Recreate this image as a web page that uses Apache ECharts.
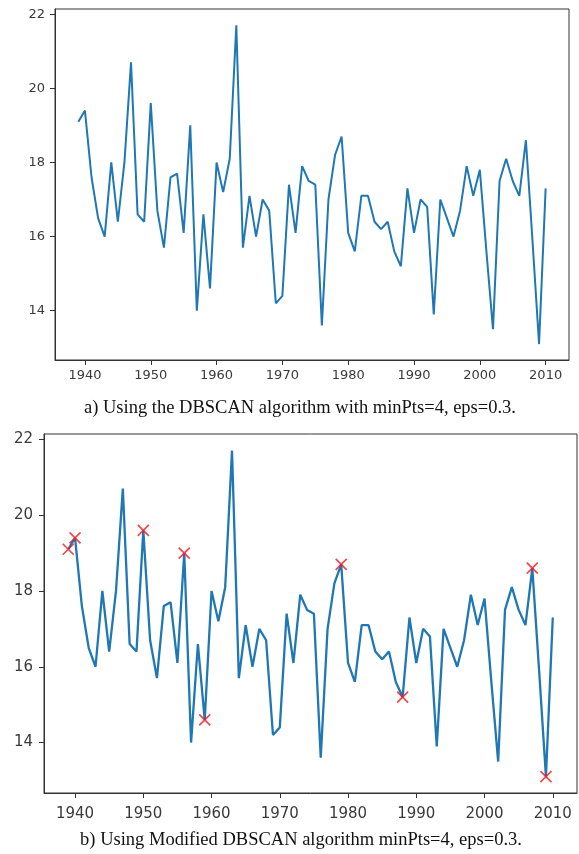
<!DOCTYPE html>
<html>
<head>
<meta charset="utf-8">
<script src="https://cdn.jsdelivr.net/npm/echarts@6/dist/echarts.min.js"></script>
<style>
html, body { margin: 0; padding: 0; background: #fff; }
#main { width: 579px; height: 854px; }
</style>
</head>
<body>
<div id="main"></div>
<script>
// yearly values
var years = [1939, 1940, 1941, 1942, 1943, 1944, 1945, 1946, 1947, 1948, 1949,
    1950, 1951, 1952, 1953, 1954, 1955, 1956, 1957, 1958, 1959,
    1960, 1961, 1962, 1963, 1964, 1965, 1966, 1967, 1968, 1969,
    1970, 1971, 1972, 1973, 1974, 1975, 1976, 1977, 1978, 1979,
    1980, 1981, 1982, 1983, 1984, 1985, 1986, 1987, 1988, 1989,
    1990, 1991, 1992, 1993, 1994, 1995, 1996, 1997, 1998, 1999,
    2000, 2001, 2002, 2003, 2004, 2005, 2006, 2007, 2008, 2009, 2010];
var values = [19.1, 19.4, 17.6, 16.5, 16.0, 18.0, 16.4, 18.0, 20.7, 16.6, 16.4,
    19.6, 16.7, 15.7, 17.6, 17.7, 16.1, 19.0, 14.0, 16.6, 14.6,
    18.0, 17.2, 18.1, 21.7, 15.7, 17.1, 16.0, 17.0, 16.7, 14.2,
    14.4, 17.4, 16.1, 17.9, 17.5, 17.4, 13.6, 17.0, 18.2, 18.7,
    16.1, 15.6, 17.1, 17.1, 16.4, 16.2, 16.4, 15.6, 15.2, 17.3,
    16.1, 17.0, 16.8, 13.9, 17.0, 16.5, 16.0, 16.7, 17.9, 17.1,
    17.8, 15.6, 13.5, 17.5, 18.1, 17.5, 17.1, 18.6, 15.9, 13.1, 17.3];
// points flagged by the modified algorithm
var outlierYears = [1939, 1940, 1950, 1956, 1959, 1979, 1988, 2007, 2009];
var yTicks = [14, 16, 18, 20, 22];
var xTicks = [1940, 1950, 1960, 1970, 1980, 1990, 2000, 2010];
var captionA = "a) Using the DBSCAN algorithm with minPts=4, eps=0.3.";
var captionB = "b) Using Modified DBSCAN algorithm minPts=4, eps=0.3.";

var lineData = years.map(function(y, i) { return [y, values[i]]; });
var outlierData = outlierYears.map(function(y) {
    return [y, values[years.indexOf(y)]];
});

var axisCol = "#333";

function plain(v) {
    return String(v);
}

function xAxisFor(gridIndex, fontSize, margin) {
    return {
        type: "value",
        gridIndex: gridIndex,
        min: 1935.45,
        max: 2013.55,
        splitLine: { show: false },
        axisLine: { show: true, onZero: false, lineStyle: { color: axisCol, width: 1 } },
        axisTick: { show: true, length: 5, customValues: xTicks, lineStyle: { color: axisCol } },
        axisLabel: {
            customValues: xTicks, margin: margin, color: "#3a3a3a", formatter: plain,
            fontFamily: "DejaVu Sans", fontSize: fontSize
        }
    };
}

function yAxisFor(gridIndex, fontSize, margin) {
    return {
        type: "value",
        gridIndex: gridIndex,
        min: 12.67,
        max: 22.14,
        splitLine: { show: false },
        axisLine: { show: true, lineStyle: { color: axisCol, width: 1 } },
        axisTick: { show: true, length: 5, customValues: yTicks, lineStyle: { color: axisCol } },
        axisLabel: {
            customValues: yTicks, margin: margin, color: "#3a3a3a", formatter: plain,
            fontFamily: "DejaVu Sans", fontSize: fontSize
        }
    };
}

var chart = echarts.init(document.getElementById("main"), null, { renderer: "canvas" });

chart.setOption({
    animation: false,
    backgroundColor: "#fff",
    grid: [
        { left: 55, top: 9, width: 514, height: 351, show: true, borderColor: axisCol, borderWidth: 1 },
        { left: 44, top: 434, width: 533, height: 359, show: true, borderColor: axisCol, borderWidth: 1 }
    ],
    xAxis: [xAxisFor(0, 13, 9), xAxisFor(1, 15, 14)],
    yAxis: [yAxisFor(0, 13, 10), yAxisFor(1, 15, 11)],
    series: [
        {
            type: "line", xAxisIndex: 0, yAxisIndex: 0,
            data: lineData, showSymbol: false,
            lineStyle: { color: "#1f77b4", width: 2 }
        },
        {
            type: "line", xAxisIndex: 1, yAxisIndex: 1,
            data: lineData, showSymbol: false,
            lineStyle: { color: "#1f77b4", width: 2.3 }
        },
        {
            type: "scatter", xAxisIndex: 1, yAxisIndex: 1,
            data: outlierData,
            symbol: "path://M0,0 L10,10 M10,0 L0,10",
            symbolSize: 11,
            itemStyle: { color: "none", borderColor: "#f01820", borderWidth: 1.7 },
            z: 5
        }
    ],
    graphic: [
        {
            type: "text", x: 300, y: 408,
            style: {
                text: captionA, fill: "#111", font: "18.5px 'Liberation Serif'",
                textAlign: "center", textVerticalAlign: "middle"
            }
        },
        {
            type: "text", x: 301, y: 840,
            style: {
                text: captionB, fill: "#111", font: "18.5px 'Liberation Serif'",
                textAlign: "center", textVerticalAlign: "middle"
            }
        }
    ]
});
</script>
</body>
</html>
